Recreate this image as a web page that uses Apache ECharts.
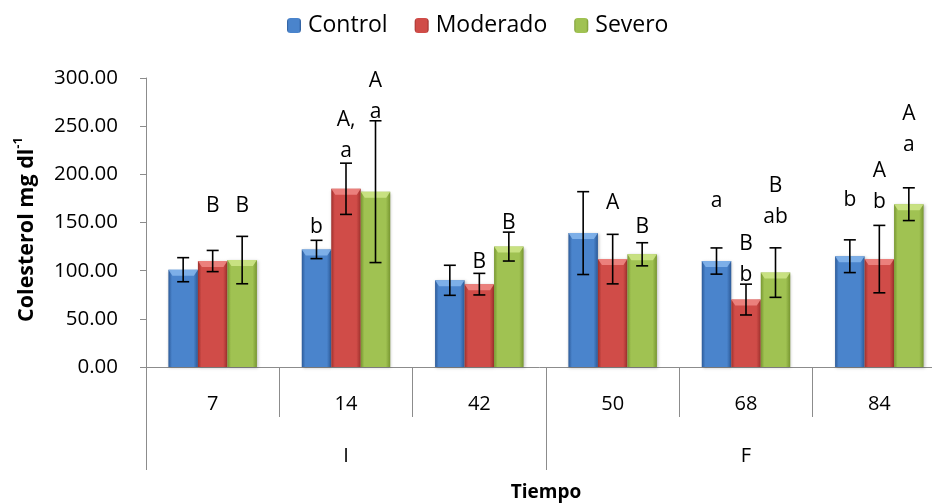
<!DOCTYPE html>
<html>
<head>
<meta charset="utf-8">
<script src="https://cdn.jsdelivr.net/npm/echarts@6/dist/echarts.min.js"></script>
<style>
html,body{margin:0;padding:0;background:#fff;overflow:hidden;}
#chart{width:932px;height:504px;}
</style>
</head>
<body>
<div id="chart"></div>
<script>
// ---- data ----
const categories = ['7', '14', '42', '50', '68', '84'];
const groups = ['I', 'F'];
const seriesNames = ['Control', 'Moderado', 'Severo'];
const controlMean = [101, 122, 90, 139, 110, 115];
const controlErr = [12.5, 9.5, 15.6, 43, 13.6, 17];
const moderadoMean = [110, 185, 86, 112, 70, 112];
const moderadoErr = [11, 26.6, 11.2, 25.7, 16, 35];
const severoMean = [111, 182, 125, 117, 98, 169];
const severoErr = [24.6, 73.6, 15, 12, 25.7, 17];
const controlLetters = ['', 'b', '', '', 'a', 'b'];
const moderadoLetters = ['B', 'A,\na', 'B', 'A', 'B\nb', 'A\nb'];
const severoLetters = ['B', 'A\na', 'B', 'B', 'B\nab', 'A\na'];
// value (data units) at which each letter block is centred
const controlLetterY = [0, 147.5, 0, 0, 174.8, 175.5];
const moderadoLetterY = [170.2, 243, 111.4, 172.4, 113.7, 189.5];
const severoLetterY = [170.2, 283.5, 151.6, 147.5, 174.5, 248.7];
const yMin = 0, yMax = 300, yStep = 50;

// ---- styling ----
const FONT = 'Open Sans';
const BAR_W = 29.5;
const palette = [
  {edge: '#2c5a98', mid: '#4a84cc', top: '#86b6ec'},
  {edge: '#9e302c', mid: '#d04c48', top: '#f08a86'},
  {edge: '#779630', mid: '#a0c252', top: '#cfe68a'}
];
function grad(p) {
  return new echarts.graphic.LinearGradient(0, 0, 1, 0, [
    {offset: 0, color: p.edge}, {offset: 0.12, color: p.mid},
    {offset: 0.85, color: p.mid}, {offset: 1, color: p.edge}
  ]);
}

const means = [controlMean, moderadoMean, severoMean];
const errs = [controlErr, moderadoErr, severoErr];
const letters = [controlLetters, moderadoLetters, severoLetters];
const letterY = [controlLetterY, moderadoLetterY, severoLetterY];

const series = [];
seriesNames.forEach((name, s) => {
  series.push({
    name: name, type: 'bar', xAxisIndex: 0, yAxisIndex: 0,
    data: means[s], barWidth: BAR_W, barGap: '0%', z: 2,
    itemStyle: {color: grad(palette[s]), shadowColor: 'rgba(0,0,0,0.25)', shadowBlur: 3, shadowOffsetX: 1, shadowOffsetY: 1}
  });
});
// bevel tops
seriesNames.forEach((name, s) => {
  series.push({
    type: 'custom', xAxisIndex: 0, yAxisIndex: 0, z: 3, silent: true,
    data: means[s].map((v, i) => [i, v]),
    renderItem: function (params, api) {
      const c = api.coord([api.value(0), api.value(1)]);
      const cx = c[0] + (s - 1) * BAR_W;
      const x0 = cx - BAR_W / 2, x1 = cx + BAR_W / 2, t = c[1];
      return {
        type: 'polygon',
        shape: {points: [[x0, t], [x1, t], [x1 - 4, t + 6], [x0 + 4, t + 6]]},
        style: {fill: palette[s].top, opacity: 0.85}
      };
    }
  });
});
// error bars
seriesNames.forEach((name, s) => {
  series.push({
    type: 'custom', xAxisIndex: 0, yAxisIndex: 0, z: 4, silent: true,
    data: means[s].map((v, i) => [i, v - errs[s][i], v + errs[s][i]]),
    encode: {x: 0, y: [1, 2]},
    renderItem: function (params, api) {
      const lo = api.coord([api.value(0), api.value(1)]);
      const hi = api.coord([api.value(0), api.value(2)]);
      const cx = lo[0] + (s - 1) * BAR_W;
      const hw = 6;
      const st = {stroke: '#000', lineWidth: 1.6};
      return {
        type: 'group', children: [
          {type: 'line', shape: {x1: cx, y1: lo[1], x2: cx, y2: hi[1]}, style: st},
          {type: 'line', shape: {x1: cx - hw, y1: lo[1], x2: cx + hw, y2: lo[1]}, style: st},
          {type: 'line', shape: {x1: cx - hw, y1: hi[1], x2: cx + hw, y2: hi[1]}, style: st}
        ]
      };
    }
  });
});
// significance letters
seriesNames.forEach((name, s) => {
  series.push({
    type: 'custom', xAxisIndex: 0, yAxisIndex: 0, z: 5, silent: true,
    data: letterY[s].map((v, i) => [i, v]),
    renderItem: function (params, api) {
      const txt = letters[s][params.dataIndex];
      if (!txt) return null;
      const c = api.coord([api.value(0), api.value(1)]);
      return {
        type: 'text',
        style: {
          x: c[0] + (s - 1) * BAR_W, y: c[1] + 2.5, text: txt,
          align: 'center', verticalAlign: 'middle',
          font: '21px "' + FONT + '"', fill: '#000', lineHeight: 31
        }
      };
    }
  });
});

const chart = echarts.init(document.getElementById('chart'), null, {renderer: 'canvas'});
chart.setOption({
  animation: false,
  backgroundColor: '#fff',
  textStyle: {fontFamily: FONT},
  legend: {
    data: seriesNames, top: 14, left: 287, padding: 0,
    itemWidth: 14, itemHeight: 15, itemGap: 27,
    textStyle: {fontSize: 23, color: '#000', fontFamily: FONT, padding: [0, 0, 0, 2]}
  },
  grid: {left: 146, top: 78, width: 800, height: 289, containLabel: false, outerBoundsMode: 'none'},
  xAxis: [{
    type: 'category', data: categories, gridIndex: 0, position: 'bottom',
    axisLine: {lineStyle: {color: '#8c8c8c', width: 1}},
    axisTick: {show: true, length: 50, alignWithLabel: false, interval: 0, lineStyle: {color: '#8c8c8c'}},
    axisLabel: {margin: 27, fontSize: 20, color: '#000', fontFamily: FONT, interval: 0}
  }, {
    type: 'category', data: groups, gridIndex: 0, position: 'bottom',
    axisLine: {show: false},
    axisTick: {show: true, length: 103, alignWithLabel: false, interval: 0, lineStyle: {color: '#8c8c8c'}},
    axisLabel: {margin: 79, fontSize: 20, color: '#000', fontFamily: FONT, interval: 0},
    name: 'Tiempo', nameLocation: 'middle', nameGap: 116,
    nameTextStyle: {fontSize: 19, fontWeight: 'bold', color: '#000', fontFamily: FONT}
  }],
  yAxis: {
    type: 'value', min: yMin, max: yMax, interval: yStep,
    axisLine: {show: true, lineStyle: {color: '#8c8c8c'}},
    axisTick: {show: true, length: 6, lineStyle: {color: '#8c8c8c'}},
    splitLine: {show: false},
    axisLabel: {margin: 28, fontSize: 20.5, color: '#000', fontFamily: FONT, formatter: v => v.toFixed(2)},
    name: '{t|Colesterol mg dl}{s|-1}', nameLocation: 'middle', nameGap: 108, nameRotate: 90,
    nameTextStyle: {
      color: '#000', fontFamily: FONT, padding: [0, 14, 0, 0],
      rich: {
        t: {fontSize: 21.5, fontWeight: 'bold', fontFamily: FONT, color: '#000', lineHeight: 26, verticalAlign: 'bottom'},
        s: {fontSize: 13, fontWeight: 'bold', fontFamily: FONT, color: '#000', lineHeight: 26, verticalAlign: 'top'}
      }
    }
  },
  series: series
});
</script>
</body>
</html>
